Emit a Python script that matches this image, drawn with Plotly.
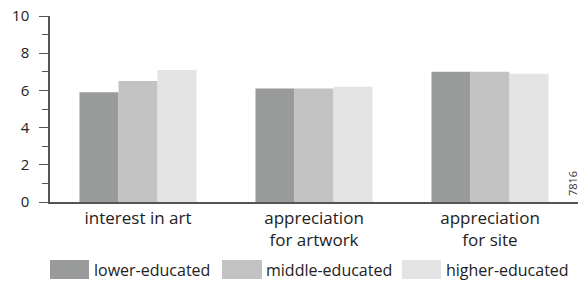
import plotly.graph_objects as go

categories = ["interest in art", "appreciation<br>for artwork", "appreciation<br>for site"]
series_names = ["lower-educated", "middle-educated", "higher-educated"]
lower = [5.9, 6.1, 7.0]
middle = [6.5, 6.1, 7.0]
higher = [7.1, 6.2, 6.9]
colors = ["#999a9a", "#c1c2c1", "#e3e3e3"]
y_ticks = [0, 2, 4, 6, 8, 10]

FONT = "Open Sans"
TXT = "#222222"
AX = "#555555"

fig = go.Figure()
for name, vals, col in zip(series_names, [lower, middle, higher], colors):
    fig.add_trace(go.Bar(x=categories, y=vals, name=name, marker=dict(color=col, line=dict(width=0)),
                         showlegend=False))

fig.update_layout(
    width=585, height=283,
    margin=dict(l=50, r=7, t=16, b=81, autoexpand=False),
    paper_bgcolor="white", plot_bgcolor="white",
    barmode="group", bargap=0.335, bargroupgap=0,
    font=dict(family=FONT, size=16, color=TXT),
)
fig.update_xaxes(
    showline=True, linecolor=AX, linewidth=1.5, ticks="", showgrid=False, automargin=False,
    tickfont=dict(family=FONT, size=17, color=TXT), range=[-0.5, 2.5], ticklabelstandoff=0,
)
fig.update_yaxes(
    range=[0, 10], tickvals=y_ticks, showline=True, linecolor=AX, linewidth=1.5, automargin=False,
    ticks="outside", ticklen=9, tickwidth=1.2, tickcolor=AX, showgrid=False, zeroline=False,
    minor=dict(dtick=1, ticks="outside", ticklen=6, tickwidth=1.2, tickcolor=AX, showgrid=False),
    tickfont=dict(family=FONT, size=15, color=TXT), ticklabelstandoff=7,
)

# custom legend (wide swatches)
swatch_x = [(0.0, 0.0739), (0.3258, 0.4015), (0.6667, 0.7405)]
text_x = [0.0795, 0.4053, 0.7462]
for (x0, x1), tx, name, col in zip(swatch_x, text_x, series_names, colors):
    fig.add_shape(type="rect", xref="paper", yref="paper",
                  x0=x0, x1=x1, y0=-0.414, y1=-0.312,
                  fillcolor=col, line=dict(width=0), layer="above")
    fig.add_annotation(text=name, xref="paper", yref="paper", x=tx, y=-0.366,
                       xanchor="left", yanchor="middle", showarrow=False,
                       font=dict(family=FONT, size=16, color=TXT))

fig.add_annotation(text="7816", xref="paper", yref="paper", x=0.9896, y=0.0995,
                   xanchor="center", yanchor="middle", textangle=-90, showarrow=False,
                   font=dict(family=FONT, size=11, color="#333333"))

fig.write_html("out.html", config={"displayModeBar": False},
               post_script="document.body.style.margin='0';document.body.style.padding='0';")
